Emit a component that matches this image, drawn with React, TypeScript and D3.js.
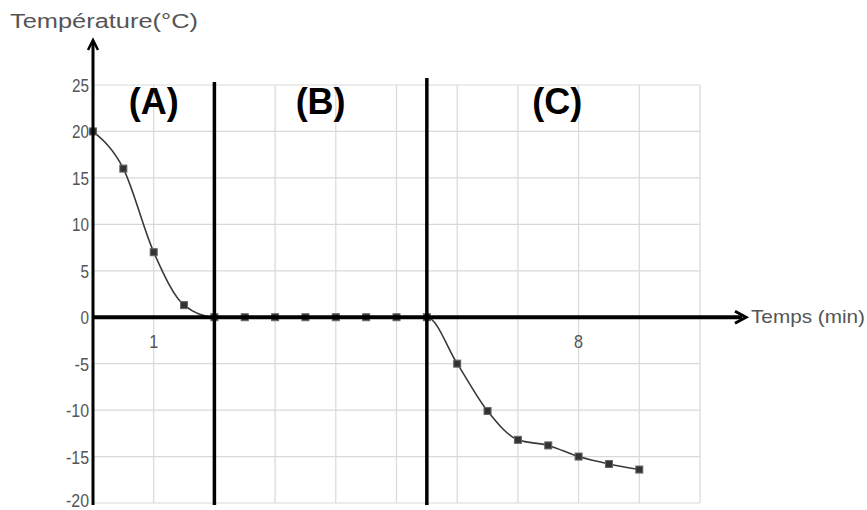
import React from "react";
import * as d3 from "d3";

// temps (min) et température (°C)
const times = [0, 0.5, 1, 1.5, 2, 2.5, 3, 3.5, 4, 4.5, 5, 5.5, 6, 6.5, 7, 7.5, 8, 8.5, 9];
const temps = [20, 16, 7, 1.3, 0, 0, 0, 0, 0, 0, 0, 0, -5, -10.1, -13.2, -13.8, -15, -15.8, -16.4];
const yTicks = [25, 20, 15, 10, 5, 0, -5, -10, -15, -20];
const xLabels = [1, 8];
const xGrid = [1, 2, 3, 4, 5, 6, 7, 8, 9, 10];
const phaseBounds = [2, 5.5];
const phases = [
  { label: "(A)", t: 1 },
  { label: "(B)", t: 3.75 },
  { label: "(C)", t: 7.65 },
];

const W = 867;
const H = 510;
const narrow = "'Liberation Sans Narrow', 'Liberation Sans', Arial, sans-serif";

export default function App() {
  const x = d3.scaleLinear().domain([0, 10]).range([93, 700]);
  const y = d3.scaleLinear().domain([-20, 25]).range([503, 85]);

  const pts = times.map((t, i) => [t, temps[i]] as [number, number]);
  const line = d3
    .line<[number, number]>()
    .x((d) => x(d[0]))
    .y((d) => y(d[1]))
    .curve(d3.curveMonotoneX);

  const x0 = x(0);
  const y0 = y(0);

  // largeur approx. d'un libellé de graduation (police étroite)
  const tickLen = (v: number) => String(Math.abs(v)).length * 8.5 + (v < 0 ? 6 : 0);

  return (
    <svg
      width={W}
      height={H}
      style={{ position: "absolute", left: 0, top: 0, background: "#fff" }}
    >
      {/* grille */}
      <g stroke="#d9d9d9" strokeWidth={1.2}>
        {yTicks.map((v) => (
          <line key={"h" + v} x1={x0} x2={x(10)} y1={y(v)} y2={y(v)} />
        ))}
        {xGrid.map((v) => (
          <line key={"v" + v} x1={x(v)} x2={x(v)} y1={y(25)} y2={y(-20)} />
        ))}
      </g>

      {/* graduations */}
      <g fontFamily={narrow} fontSize={19} fill="#555">
        {yTicks.map((v) => (
          <text
            key={v}
            x={89 - tickLen(v)}
            y={Math.min(y(v) + 7, 507)}
            textLength={tickLen(v)}
            lengthAdjust="spacingAndGlyphs"
          >
            {v}
          </text>
        ))}
      </g>
      <g fontFamily={narrow} fontSize={19} fill="#555">
        {xLabels.map((v) => (
          <text
            key={v}
            x={x(v) - 4.5}
            y={y0 + 31}
            textLength={9}
            lengthAdjust="spacingAndGlyphs"
          >
            {v}
          </text>
        ))}
      </g>

      {/* courbe */}
      <path d={line(pts) || ""} fill="none" stroke="#3a3a3a" strokeWidth={1.6} />
      <g fill="#333" stroke="#666" strokeWidth={1}>
        {pts.map((d, i) => (
          <rect key={i} x={x(d[0]) - 3.5} y={y(d[1]) - 3.5} width={7} height={7} />
        ))}
      </g>

      {/* limites des phases */}
      {phaseBounds.map((t, i) => (
        <line
          key={t}
          x1={x(t)}
          x2={x(t)}
          y1={i === 0 ? 82 : 78}
          y2={505}
          stroke="#000"
          strokeWidth={3.5}
        />
      ))}
      <g fontFamily="'Liberation Sans', Arial, sans-serif" fontWeight="bold" fontSize={36} textAnchor="middle">
        {phases.map((p) => (
          <text key={p.label} x={x(p.t)} y={114}>
            {p.label}
          </text>
        ))}
      </g>

      {/* axes */}
      <line x1={x0} x2={742} y1={y0} y2={y0} stroke="#000" strokeWidth={4} />
      <path d={`M${735},${y0 - 6} L${746},${y0} L${735},${y0 + 6}`} fill="none" stroke="#000" strokeWidth={3} />
      <line x1={x0} x2={x0} y1={505} y2={42} stroke="#000" strokeWidth={3} />
      <path d={`M${x0 - 5},${50} L${x0},${40} L${x0 + 5},${50}`} fill="none" stroke="#000" strokeWidth={2.5} />

      {/* titres des axes */}
      <text
        x={10}
        y={28}
        fontFamily={narrow}
        fontSize={20}
        fill="#555"
        textLength={188}
        lengthAdjust="spacingAndGlyphs"
      >
        Température(°C)
      </text>
      <text
        x={751}
        y={y0 + 6}
        fontFamily={narrow}
        fontSize={19}
        fill="#555"
        textLength={114}
        lengthAdjust="spacingAndGlyphs"
      >
        Temps (min)
      </text>
    </svg>
  );
}
